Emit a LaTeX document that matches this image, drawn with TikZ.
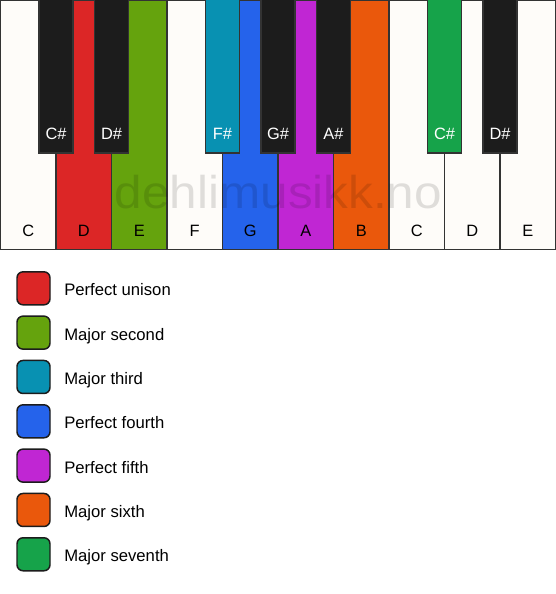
\documentclass[tikz,border=0pt]{standalone}
\usepackage{fontspec}
\setmainfont{Liberation Sans}
\definecolor{keywhite}{HTML}{FEFCF9}
\definecolor{keyblack}{HTML}{1C1C1C}
\definecolor{keyline}{HTML}{333333}
\definecolor{cunison}{HTML}{DC2626}
\definecolor{csecond}{HTML}{65A30D}
\definecolor{cthird}{HTML}{0891B2}
\definecolor{cfourth}{HTML}{2563EB}
\definecolor{cfifth}{HTML}{C026D3}
\definecolor{csixth}{HTML}{EA580C}
\definecolor{cseventh}{HTML}{16A34A}
\begin{document}
\begin{tikzpicture}[x=0.75pt,y=-0.75pt,
  whitekey/.style={draw=keyline,line width=0.8pt},
  blackkey/.style={draw=keyline,line width=0.8pt},
  wlabel/.style={anchor=base,font=\fontsize{12.3}{14}\selectfont,text=black,inner sep=0pt},
  blabel/.style={anchor=base,font=\fontsize{12.3}{14}\selectfont,text=white,inner sep=0pt},
  swatch/.style={draw=keyblack,line width=1.1pt,rounded corners=4.5pt},
  legtext/.style={anchor=base west,font=\fontsize{12.5}{14}\selectfont,text=black,inner sep=0pt}]
\useasboundingbox[fill=white] (0,0) rectangle (556,594);
% white keys
\foreach \i/\n/\c in {0/C/keywhite,1/D/cunison,2/E/csecond,3/F/keywhite,4/G/cfourth,5/A/cfifth,6/B/csixth,7/C/keywhite,8/D/keywhite,9/E/keywhite}{
  \pgfmathsetmacro{\xa}{0.5+55.5*\i}
  \pgfmathsetmacro{\xb}{0.5+55.5*(\i+1)}
  \pgfmathsetmacro{\xm}{0.5+55.5*(\i+0.5)}
  \draw[whitekey,fill=\c] (\xa,0.5) rectangle (\xb,249.3);
  \node[wlabel] (w\i) at (\xm,236) {\n};
}
% watermark
\node[anchor=base,inner sep=0pt,font=\fontsize{34.5}{40}\selectfont,text=black,text opacity=0.12,xscale=1.075] (wm) at (278.5,208) {dehlimusikk.no};
% black keys
\foreach \j/\n/\c in {1/C\#/keyblack,2/D\#/keyblack,4/F\#/cthird,5/G\#/keyblack,6/A\#/keyblack,8/C\#/cseventh,9/D\#/keyblack}{
  \pgfmathsetmacro{\xm}{0.5+55.5*\j}
  \draw[blackkey,fill=\c] (\xm-17,-1) rectangle (\xm+17,153);
  \node[blabel] (b\j) at (\xm,139) {\n};
}
% legend
\foreach \k/\c/\t in {0/cunison/Perfect unison,1/csecond/Major second,2/cthird/Major third,3/cfourth/Perfect fourth,4/cfifth/Perfect fifth,5/csixth/Major sixth,6/cseventh/Major seventh}{
  \pgfmathsetmacro{\yc}{288.3+44.33*\k}
  \draw[swatch,fill=\c] (17,\yc-16.5) rectangle (50,\yc+16.5);
  \node[legtext] (l\k) at (64,\yc+7.5) {\t};
}
\end{tikzpicture}
\end{document}
